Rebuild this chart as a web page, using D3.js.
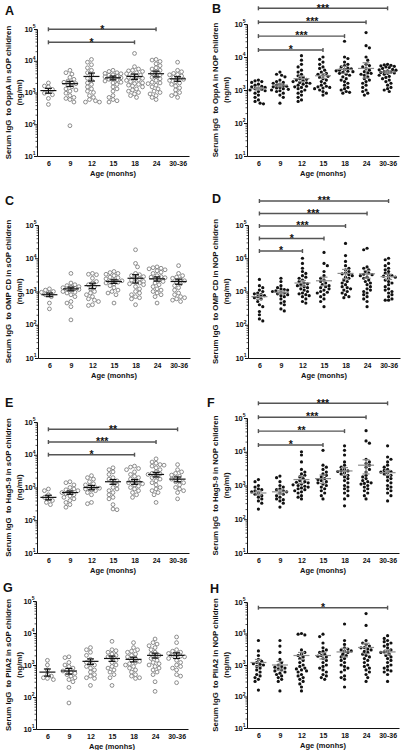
<!DOCTYPE html>
<html><head><meta charset="utf-8">
<script src="https://cdn.jsdelivr.net/npm/d3@7"></script>
<style>
body{margin:0;background:#fff}
svg{display:block}
text{font-family:"Liberation Sans",Arial,Helvetica,sans-serif;font-weight:bold;fill:#111}
</style>
</head><body>
<svg id="c" width="405" height="750"></svg>
<script>
// ---------- categories & ticks ----------
const ages = ["6","9","12","15","18","24","30-36"];
const yTicks = [10,100,1000,10000,100000];
const xTitle = "Age (monhs)";

// ---------- A: OppA, sOP ----------
const oppaSOP = [
  [2000,1600,1500,1250,1050,950,850,650,420],
  [5000,4200,3800,3000,2600,2300,2100,2000,1900,1700,1500,1300,1200,1100,950,800,700,650,600,500,90],
  [11000,9000,7500,6000,5000,4200,3500,2800,2400,2000,1800,1500,1300,1100,1000,800,700,600,550,500,500],
  [5000,4600,4200,3900,3600,3300,3100,2900,2700,2500,2300,2100,2000,1800,1500,1300,1100,800,700,550,500,600,3500,2600,4000],
  [17000,6500,5500,5000,4600,4200,3900,3600,3300,3000,2800,2600,2400,2200,2000,1900,1700,1600,1500,1300,1200,1100,1000,900,800,700,4800,3500,2500,1800],
  [11000,10500,8000,7000,6000,5500,5000,4500,4000,3600,3200,3000,2700,2400,2100,1900,1700,1500,1300,1100,1000,900,800,700,600,9500,2000],
  [9000,5000,4500,4000,3600,3300,3000,2800,2600,2400,2200,2000,1800,1600,1400,1200,1000,900,800,700,3700]
];
const oppaSOPMean = [1150,1900,3200,2900,3200,3900,2700];
const oppaSOPSem  = [200,350,900,400,600,800,450];
const oppaSOPSig  = [["6","18","*"],["6","24","*"]];

// ---------- B: OppA, NOP ----------
const oppaNOP = [
  [2000,1900,1800,1700,1500,1400,1300,1200,1150,1100,1050,1000,950,900,800,700,600,500,450,400,380,1250],
  [3500,3000,2800,2500,2000,1800,1700,1600,1500,1400,1300,1250,1200,1150,1100,1050,1000,950,900,800,700,600,400,1350],
  [11000,8000,6000,5000,4000,3500,3000,2700,2400,2200,2000,1900,1800,1700,1600,1500,1400,1300,1200,1100,1000,900,800,700,600,500,450,2100,1650,1250],
  [10000,8500,7000,6000,5000,4500,4000,3500,3200,3000,2800,2600,2400,2200,2000,1800,1600,1400,1300,1250,1200,1150,1100,1000,900,800,700],
  [30000,10000,9000,7000,6000,5500,5000,4600,4200,4000,3800,3600,3400,3200,3000,2800,2500,2200,2000,1800,1600,1400,1200,1100,1000,900,850,800,4400,3700],
  [55000,22000,19000,10000,8000,6000,5500,5000,4500,4000,3600,3300,3000,2800,2500,2200,2000,1800,1600,1400,1200,1000,900,800,700,3200],
  [6000,5800,5600,5400,5200,5000,4800,4500,4200,4000,3800,3600,3400,3200,3000,2800,2600,2400,2200,2000,1800,1600,1400,1200,1100,1000,900,3500,3300,4100]
];
const oppaNOPMean = [1100,1400,2200,2700,4200,4500,3500];
const oppaNOPSem  = [100,150,400,450,1000,2200,300];
const oppaNOPSig  = [["6","15","*"],["6","18","***"],["6","24","***"],["6","30-36","***"]];

// ---------- C: OMP CD, sOP ----------
const ompSOP = [
  [1200,1100,1000,950,900,800,700,450,300],
  [3500,1800,1600,1500,1400,1300,1200,1150,1100,1000,950,900,800,700,500,450,350,140,1250,1350],
  [3500,3300,3200,2500,2000,1800,1600,1400,1200,1000,900,800,700,600,550,500,400,380],
  [4000,3700,3500,3300,3000,2700,2400,2200,2000,1900,1800,1700,1500,1300,1100,1000,900,800,450,2600,2100],
  [18000,7000,5500,3500,3200,3000,2800,2500,2200,2000,1900,1800,1700,1600,1400,1200,1000,900,800,700,650,600,400,2400],
  [5500,5200,5000,4800,4500,4200,3800,3500,3000,2800,2600,2400,2200,2000,1800,1600,1400,1200,1100,1000,900,800,700,450,2700],
  [6000,3500,3000,2700,2500,2300,2100,1900,1700,1500,1300,1100,900,800,700,650,600,550,500]
];
const ompSOPMean = [800,1200,1500,2000,2500,2400,2000];
const ompSOPSem  = [100,150,280,250,700,350,350];
const ompSOPSig  = [];

// ---------- D: OMP CD, NOP ----------
const ompNOP = [
  [2300,1500,1300,1000,900,850,800,750,700,600,500,400,350,250,200,150,130,1100,650],
  [2500,2000,1500,1300,1200,1100,1050,1000,950,900,850,800,750,700,600,500,450,400,300,260,1150],
  [10000,7000,5000,4000,3500,3000,2700,2500,2200,2000,1800,1600,1400,1300,1200,1100,1000,900,850,800,750,700,600,500,450,1500,1700],
  [15000,7000,6000,4000,3000,2500,2200,2000,1800,1600,1400,1300,1200,1100,1000,950,900,800,700,600,500,350,1500],
  [28000,12000,8000,6000,5000,4500,4000,3600,3200,3000,2700,2500,2200,2000,1800,1600,1400,1300,1200,1100,1000,900,800,700,650,3400],
  [20000,18000,5500,5000,4500,4000,3600,3200,3000,2700,2500,2200,2000,1800,1600,1400,1200,1100,1000,900,800,700,600,500,350,3300],
  [10000,9000,7000,6000,5000,4500,4000,3600,3200,3000,2700,2500,2200,2000,1800,1600,1400,1200,1100,1000,900,800,700,600,550,550,2900]
];
const ompNOPMean = [700,950,1800,2100,3500,3400,2800];
const ompNOPSem  = [120,100,350,600,1100,900,500];
const ompNOPSig  = [["6","12","*"],["6","15","*"],["6","18","***"],["6","24","***"],["6","30-36","***"]];

// ---------- E: Hag5-9, sOP ----------
const hagSOP = [
  [900,800,600,500,450,400,350,300],
  [1500,1400,1200,1000,900,800,750,700,650,600,550,500,450,400,350,300,250,850],
  [2300,2000,1800,1500,1300,1200,1100,1000,950,900,850,800,700,600,350,320],
  [4000,3500,3000,2500,2000,1800,1600,1400,1200,1000,900,800,700,600,500,450,300,220,210],
  [4500,4200,3800,3500,3000,2500,2200,2000,1800,1600,1400,1300,1200,1100,1000,900,800,700,600,500,1500],
  [7500,6000,5500,5000,4800,4500,4000,3500,3000,2700,2500,2200,2000,1800,1600,1400,1200,1000,900,800,700,600,350,2600],
  [5000,3500,3000,2700,2400,2200,2000,1800,1600,1400,1200,1000,900,800,700,450,1500]
];
const hagSOPMean = [500,700,1000,1500,1500,2500,1800];
const hagSOPSem  = [80,80,150,250,250,400,300];
const hagSOPSig  = [["6","18","*"],["6","24","***"],["6","30-36","**"]];

// ---------- F: Hag5-9, NOP ----------
const hagNOP = [
  [1500,1300,1000,900,800,700,650,600,550,500,450,400,350,300,200,750],
  [1900,1700,1300,1000,900,800,700,650,600,550,500,450,400,380,350,300,230,750],
  [10000,8000,5000,3000,2500,2200,2000,1800,1600,1400,1300,1200,1100,1000,950,900,850,800,750,700,650,600,500,450,400,1250,1050],
  [11000,4000,3500,3000,2500,2200,2000,1800,1600,1400,1300,1200,1100,1000,900,800,700,600,500,400,1500],
  [15000,11000,8000,5000,4000,3500,3000,2800,2600,2400,2200,2000,1800,1600,1400,1200,1000,900,800,700,600,500,400,250,2700],
  [42000,21000,18000,6000,5000,4500,4000,3500,3000,2500,2000,1800,1600,1400,1300,1200,1100,1000,900,800,700,600,500,400,1150],
  [15000,7000,6000,5000,4000,3500,3000,2800,2600,2400,2200,2000,1800,1600,1400,1200,1000,900,800,700,600,500,350,2500]
];
const hagNOPMean = [600,650,1500,1600,2700,4000,2400];
const hagNOPSem  = [80,90,350,450,700,1800,400];
const hagNOPSig  = [["6","15","*"],["6","18","**"],["6","24","***"],["6","30-36","***"]];

// ---------- G: PIIA2, sOP ----------
const piiaSOP = [
  [1400,1000,700,500,450,400,380,350],
  [1800,1700,1200,1000,900,800,700,650,600,550,500,450,400,350,300,200,65],
  [3500,3000,2500,2000,1500,1200,1100,1000,900,800,700,600,500,450,400,380,230],
  [5500,3000,2800,2500,2200,2000,1800,1600,1400,1200,1000,900,800,700,600,500,400,230],
  [5000,3500,3000,2700,2500,2200,2000,1800,1600,1400,1200,1100,1000,900,800,700,600,500,450,400,380,1300],
  [6500,5000,4500,4000,3500,3000,2500,2200,2000,1800,1600,1400,1200,1100,1000,900,800,700,600,500,300,150],
  [7500,5000,3000,2700,2500,2300,2100,2000,1900,1800,1600,1400,1200,1000,900,800,700,500,450,280]
];
const piiaSOPMean = [600,650,1300,1600,1500,2000,2000];
const piiaSOPSem  = [150,130,250,300,250,350,400];
const piiaSOPSig  = [];

// ---------- H: PIIA2, NOP ----------
const piiaNOP = [
  [6000,2800,2000,1500,1300,1200,1100,1000,900,800,700,600,500,450,400,350,300,160,1050],
  [6000,4000,2500,1500,1200,1000,900,800,750,700,650,600,550,500,450,400,350,300,150,850],
  [10000,9500,9000,3000,2500,2200,2000,1800,1600,1400,1200,1000,900,800,700,600,500,450,400,350,300,250,200,150,750,650],
  [9500,8000,5000,3500,3000,2700,2500,2200,2000,1800,1600,1400,1200,1000,900,800,700,600,500,450,400,350,1900],
  [20000,6000,4500,3500,3200,3000,2800,2500,2200,2000,1800,1600,1400,1200,1000,900,800,700,600,450,400,350,200,2700],
  [43000,18000,6000,5000,4500,4000,3500,3200,3000,2700,2500,2200,2000,1800,1600,1400,1200,1000,900,800,700,600,500,400,300,3600],
  [8500,7000,6000,5500,5000,4500,4000,3500,3000,2700,2500,2200,2000,1800,1600,1400,1200,1000,900,800,700,650,600,500,300,2600]
];
const piiaNOPMean = [1200,1000,2000,2000,2600,3600,2600];
const piiaNOPSem  = [300,300,500,450,800,1300,400];
const piiaNOPSig  = [["6","30-36","*"]];

// ---------- panel table (built from the arrays above) ----------
const panels = [
  {letter:"A", title:"Serum IgG  to OppA in sOP children", open:true,  vals:oppaSOP, mean:oppaSOPMean, sem:oppaSOPSem, sig:oppaSOPSig,
   L:{x0:37,  top:29,  bottom:156, lx:5,   ly:15,  br0:42.3, brStep:13}},
  {letter:"B", title:"Serum IgG  to OppA in NOP children", open:false, vals:oppaNOP, mean:oppaNOPMean, sem:oppaNOPSem, sig:oppaNOPSig,
   L:{x0:247, top:24,  bottom:156, lx:212, ly:13,  br0:50,   brStep:13.9}},
  {letter:"C", title:"Serum IgG  to OMP CD in sOP children", open:true,  vals:ompSOP, mean:ompSOPMean, sem:ompSOPSem, sig:ompSOPSig,
   L:{x0:38,  top:225, bottom:358, lx:5,   ly:205}},
  {letter:"D", title:"Serum IgG  to OMP CD in NOP children", open:false, vals:ompNOP, mean:ompNOPMean, sem:ompNOPSem, sig:ompNOPSig,
   L:{x0:248, top:225, bottom:358, lx:212, ly:203, br0:251,  brStep:12.5}},
  {letter:"E", title:"Serum IgG  to Hag5-9 in sOP children", open:true,  vals:hagSOP, mean:hagSOPMean, sem:hagSOPSem, sig:hagSOPSig,
   L:{x0:37,  top:422, bottom:553, lx:5,   ly:407, br0:454.7, brStep:12.7}},
  {letter:"F", title:"Serum IgG  to Hag5-9 in NOP children", open:false, vals:hagNOP, mean:hagNOPMean, sem:hagNOPSem, sig:hagNOPSig,
   L:{x0:247, top:418, bottom:553, lx:207, ly:407, br0:445,  brStep:13.9}},
  {letter:"G", title:"Serum IgG  to PIIA2 in sOP children", open:true,  vals:piiaSOP, mean:piiaSOPMean, sem:piiaSOPSem, sig:piiaSOPSig,
   L:{x0:36,  top:601, bottom:729, lx:3,   ly:592}},
  {letter:"H", title:"Serum IgG  to PIIA2 in NOP children", open:false, vals:piiaNOP, mean:piiaNOPMean, sem:piiaNOPSem, sig:piiaNOPSig,
   L:{x0:247, top:602, bottom:728, lx:210, ly:593, br0:607.7, brStep:13}}
];

const svg = d3.select("#c");
const minorTicks = [];
for (let e = 1; e < 5; e++) for (let m = 2; m < 10; m++) minorTicks.push(m * Math.pow(10, e));

function swarm(vals, cx, y, r, maxOff) {
  const pts = vals.map(v => ({v, y: y(v)})).sort((a, b) => a.y - b.y);
  const placed = [];
  const step = r * 1.05;
  const offs = [0];
  for (let k = 1; k * step <= maxOff; k++) { offs.push(k * step); offs.push(-k * step); }
  const minD = 2 * r;
  pts.forEach((p, i) => {
    let best = 0, bestD = -1;
    const order = (i % 2) ? offs.map(o => -o) : offs;
    for (const o of order) {
      let d = Infinity;
      for (const q of placed) {
        const dd = Math.hypot(q.x - (cx + o), q.y - p.y);
        if (dd < d) d = dd;
      }
      if (d >= minD) { best = o; bestD = d; break; }
      if (d > bestD) { bestD = d; best = o; }
    }
    p.x = cx + best;
    placed.push(p);
  });
  return placed;
}

panels.forEach(p => {
  const L = p.L;
  const g = svg.append("g");
  const x = d3.scalePoint().domain(ages).range([L.x0, L.x0 + 152]).padding(0.53);
  const y = d3.scaleLog().domain([10, 1e5]).range([L.bottom, L.top]);

  g.append("text").attr("x", L.lx).attr("y", L.ly).style("font-size", "12.5px").text(p.letter);

  const ya = g.append("g").attr("transform", `translate(${L.x0},0)`)
    .call(d3.axisLeft(y).tickValues(yTicks).tickSize(3).tickFormat(""));
  ya.selectAll("path,line").attr("stroke", "#111").attr("stroke-width", 1);
  const ym = g.append("g").attr("transform", `translate(${L.x0},0)`)
    .call(d3.axisLeft(y).tickValues(minorTicks).tickSize(1.5).tickFormat(""));
  ym.select(".domain").remove();
  ym.selectAll("line").attr("stroke", "#111").attr("stroke-width", 0.7);
  yTicks.forEach(t => {
    const tx = g.append("text").attr("x", L.x0 - 1.5).attr("y", y(t) + 2.6)
      .attr("text-anchor", "end").style("font-size", "7.5px");
    tx.append("tspan").text("10");
    tx.append("tspan").attr("dy", -3.2).style("font-size", "5px").text(Math.round(Math.log10(t)));
  });

  const xa = g.append("g").attr("transform", `translate(0,${L.bottom})`)
    .call(d3.axisBottom(x).tickSize(0).tickSizeOuter(0).tickPadding(5));
  xa.select(".domain").attr("stroke", "#111").attr("stroke-width", 1.1);
  xa.selectAll("text").style("font-size", "7px").style("font-family", null).attr("fill", "#111");
  g.append("text").attr("x", L.x0 + 76).attr("y", L.bottom + 19.5)
    .attr("text-anchor", "middle").style("font-size", "7.5px").text(xTitle);

  const left = L.x0 < 100;
  const tx1 = left ? 8 : 215, tx2 = left ? 19.5 : 226;
  const cy = (L.top + L.bottom) / 2;
  g.append("text").attr("transform", `translate(${tx1},${cy}) rotate(-90)`)
    .attr("text-anchor", "middle").attr("dominant-baseline", "central")
    .style("font-size", "7.8px").style("white-space", "pre").attr("xml:space", "preserve").text(p.title);
  g.append("text").attr("transform", `translate(${tx2},${cy}) rotate(-90)`)
    .attr("text-anchor", "middle").attr("dominant-baseline", "central")
    .style("font-size", "7.8px").text("(ng/ml)");

  const r = p.open ? 1.9 : 1.6;
  ages.forEach((a, i) => {
    const pts = swarm(p.vals[i], x(a), y, r, 9);
    g.append("g").selectAll("circle").data(pts).join("circle")
      .attr("cx", d => d.x).attr("cy", d => d.y).attr("r", r)
      .attr("fill", p.open ? "#fff" : "#111")
      .attr("stroke", p.open ? "#7a7a7a" : "none")
      .attr("stroke-width", p.open ? 0.85 : 0);
  });

  const mc = p.open ? "#111" : "#8a8a8a";
  ages.forEach((a, i) => {
    const cx = x(a), m = p.mean[i], s = p.sem[i];
    const eg = g.append("g").attr("stroke", mc).attr("stroke-width", 1.2);
    eg.append("line").attr("x1", cx - 8).attr("x2", cx + 8).attr("y1", y(m)).attr("y2", y(m));
    eg.append("line").attr("x1", cx).attr("x2", cx).attr("y1", y(m - s)).attr("y2", y(m + s));
    eg.append("line").attr("x1", cx - 3.5).attr("x2", cx + 3.5).attr("y1", y(m + s)).attr("y2", y(m + s));
    eg.append("line").attr("x1", cx - 3.5).attr("x2", cx + 3.5).attr("y1", y(m - s)).attr("y2", y(m - s));
  });

  p.sig.forEach((s, i) => {
    const by = L.br0 - i * L.brStep;
    const x1 = x(s[0]), x2 = x(s[1]);
    const bg = g.append("g").attr("stroke", "#555").attr("stroke-width", 1.4);
    bg.append("line").attr("x1", x1).attr("x2", x2).attr("y1", by).attr("y2", by);
    bg.append("line").attr("x1", x1).attr("x2", x1).attr("y1", by - 2).attr("y2", by + 2);
    bg.append("line").attr("x1", x2).attr("x2", x2).attr("y1", by - 2).attr("y2", by + 2);
    g.append("text").attr("x", (x1 + x2) / 2).attr("y", by + 3.2)
      .attr("text-anchor", "middle").style("font-size", "10.5px").text(s[2]);
  });
});
</script>
</body></html>
